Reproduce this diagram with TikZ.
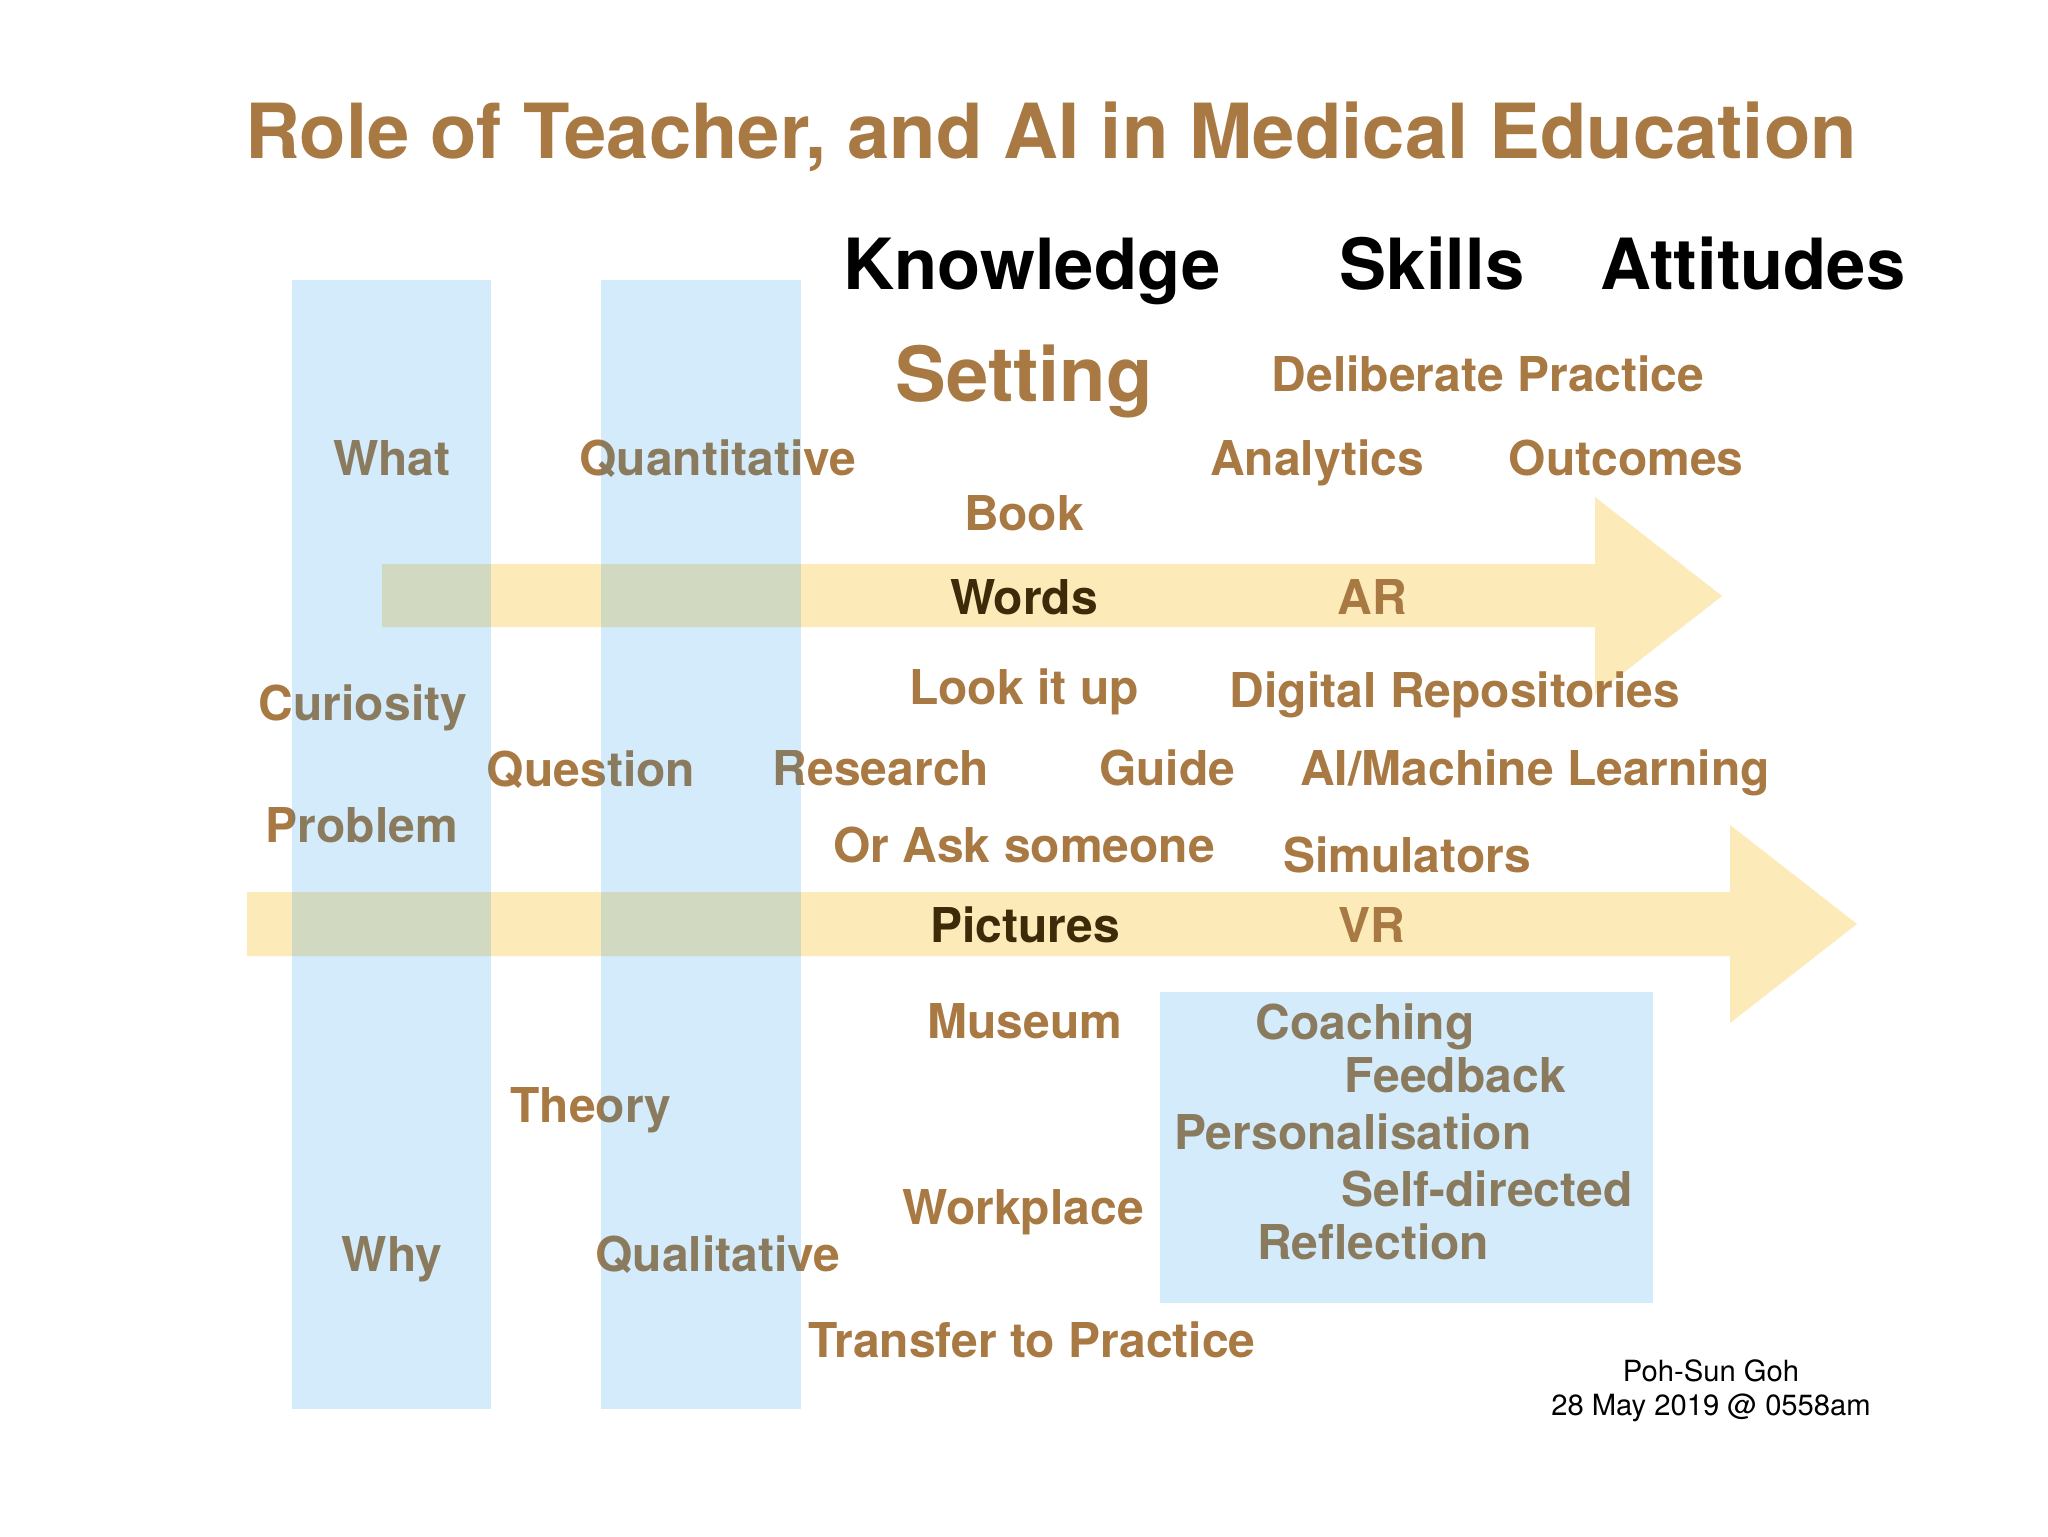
\documentclass[tikz,border=0pt]{standalone}
\usepackage{fontspec}
\setmainfont{TeX Gyre Heros}
\definecolor{brownT}{RGB}{168,121,66}
\definecolor{darkT}{RGB}{60,42,8}
\definecolor{yellowA}{RGB}{253,234,185}
\definecolor{blueC}{RGB}{0,137,237}
\tikzset{
  lbl/.style={font=\fontsize{24}{28}\selectfont\bfseries, text=brownT, inner sep=0pt, text height=17.2pt, text depth=0pt, anchor=center},
  dlbl/.style={lbl, text=darkT},
  head/.style={font=\fontsize{35.3}{40}\selectfont\bfseries, text=black, inner sep=0pt, text height=25.3pt, text depth=0pt, anchor=center},
  foot/.style={font=\fontsize{14.6}{17}\selectfont, text=black, inner sep=0pt, text height=10.5pt, text depth=0pt, anchor=center},
  arrowband/.style={fill=yellowA, draw=none},
  bluepanel/.style={fill=blueC, fill opacity=0.17, draw=none}
}
\begin{document}
\begin{tikzpicture}[x=0.5pt,y=-0.5pt]
\useasboundingbox (0,0) rectangle (2048,1536);
\fill[white] (0,0) rectangle (2048,1536);
% arrows
\path[arrowband] (382,564) -- (1595,564) -- (1595,497) -- (1722,596) -- (1595,695) -- (1595,627) -- (382,627) -- cycle;
\path[arrowband] (247,892) -- (1730,892) -- (1730,825) -- (1857,924) -- (1730,1023) -- (1730,956) -- (247,956) -- cycle;
% title
\node[font=\fontsize{38}{42}\selectfont\bfseries, text=brownT, inner sep=0pt, text height=27.3pt, text depth=0pt] (title) at (1051,131) {Role of Teacher, and AI in Medical Education};
\node[head] (know) at (1032,264) {Knowledge};
\node[head] (skills) at (1432,264) {Skills};
\node[head] (att) at (1753,264) {Attitudes};
\node[lbl, font=\fontsize{38}{44}\selectfont\bfseries, text height=27.3pt] (setting) at (1024,374) {Setting};
\node[lbl] (delib) at (1488,374) {Deliberate Practice};
\node[lbl] (what) at (392,458) {What};
\node[lbl] (quant) at (718,458) {Quantitative};
\node[lbl] (analytics) at (1317,458) {Analytics};
\node[lbl] (outcomes) at (1626,458) {Outcomes};
\node[lbl] (book) at (1024,513) {Book};
\node[dlbl] (words) at (1024,597) {Words};
\node[lbl] (ar) at (1372,597) {AR};
\node[lbl] (lookup) at (1024,687) {Look it up};
\node[lbl] (digital) at (1455,690) {Digital Repositories};
\node[lbl] (curiosity) at (363,703) {Curiosity};
\node[lbl] (question) at (591,769) {Question};
\node[lbl] (research) at (881,768) {Research};
\node[lbl] (guide) at (1167,768) {Guide};
\node[lbl] (aiml) at (1535,768) {AI/Machine Learning};
\node[lbl] (problem) at (362,825) {Problem};
\node[lbl] (ask) at (1024,845) {Or Ask someone};
\node[lbl] (sim) at (1407,855) {Simulators};
\node[dlbl] (pictures) at (1025,925) {Pictures};
\node[lbl] (vr) at (1372,925) {VR};
\node[lbl] (museum) at (1025,1021) {Museum};
\node[lbl] (coaching) at (1365,1022) {Coaching};
\node[lbl] (feedback) at (1455,1075) {Feedback};
\node[lbl] (theory) at (591,1105) {Theory};
\node[lbl] (person) at (1353,1132) {Personalisation};
\node[lbl] (selfdir) at (1487,1189) {Self-directed};
\node[lbl] (workplace) at (1023,1207) {Workplace};
\node[lbl] (reflection) at (1373,1242) {Reflection};
\node[lbl] (why) at (392,1254) {Why};
\node[lbl] (qual) at (718,1254) {Qualitative};
\node[lbl] (transfer) at (1032,1340) {Transfer to Practice};
\node[foot] (author) at (1711,1371) {Poh-Sun Goh};
\node[foot] (date) at (1711,1405) {28 May 2019 @ 0558am};
% translucent blue panels over everything
\path[bluepanel] (292,280) rectangle (491,1409);
\path[bluepanel] (601,280) rectangle (801,1409);
\path[bluepanel] (1160,992) rectangle (1653,1303);
\end{tikzpicture}
\end{document}
